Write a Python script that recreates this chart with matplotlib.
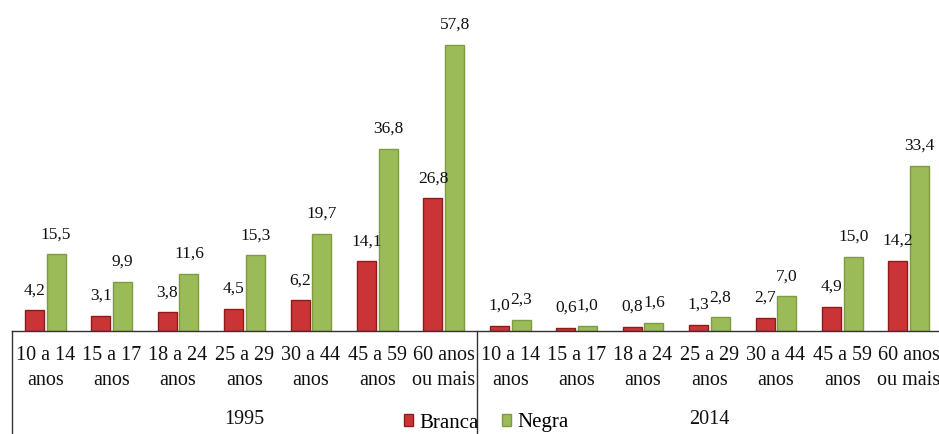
import matplotlib.pyplot as plt
import matplotlib.transforms as mtransforms
import numpy as np

plt.rcParams['font.family'] = ['Liberation Serif', 'DejaVu Serif']

# dados
faixas = ["10 a 14\nanos", "15 a 17\nanos", "18 a 24\nanos", "25 a 29\nanos",
          "30 a 44\nanos", "45 a 59\nanos", "60 anos\nou mais"]
anos = ["1995", "2014"]
branca_1995 = [4.2, 3.1, 3.8, 4.5, 6.2, 14.1, 26.8]
negra_1995 = [15.5, 9.9, 11.6, 15.3, 19.7, 36.8, 57.8]
branca_2014 = [1.0, 0.6, 0.8, 1.3, 2.7, 4.9, 14.2]
negra_2014 = [2.3, 1.0, 1.6, 2.8, 7.0, 15.0, 33.4]

branca = branca_1995 + branca_2014
negra = negra_1995 + negra_2014
labels = faixas + faixas

W, H = 939, 434
fig = plt.figure(figsize=(W / 100, H / 100), dpi=100)
ax = fig.add_axes([12 / W, 103 / H, 930 / W, 331 / H])

x = np.arange(len(branca))
bw = 0.285
off = 0.163
b1 = ax.bar(x - off, branca, bw, color="#CB3436", edgecolor="#8E1B1B", linewidth=1, label="Branca")
b2 = ax.bar(x + off, negra, bw, color="#9BBB59", edgecolor="#7D9C3F", linewidth=1, label="Negra")

def fmt(v):
    return ("%.1f" % v).replace(".", ",")

for bars, vals in [(b1, branca), (b2, negra)]:
    for r, v in zip(bars, vals):
        ax.annotate(fmt(v), xy=(r.get_x() + r.get_width() / 2, v),
                    xytext=(0, 20), textcoords="offset pixels",
                    ha="center", va="center", fontsize=12.5, color="#111111")

ax.set_xlim(-0.5, 13.5)
ax.set_ylim(0, 66.9)
ax.set_xticks(x)
ax.set_xticklabels(labels, fontsize=14.5, linespacing=1.42, color="#111111")
ax.tick_params(axis="x", length=0, pad=11)
ax.set_yticks([])
for s in ["left", "right", "top"]:
    ax.spines[s].set_visible(False)
ax.spines["bottom"].set_color("#333333")
ax.spines["bottom"].set_linewidth(1)

# separadores dos grupos
trans = mtransforms.blended_transform_factory(ax.transData, ax.transAxes)
for xs in [-0.5, 6.5, 13.5]:
    ax.plot([xs, xs], [0, -103 / 331], transform=trans, clip_on=False,
            color="#333333", lw=1)

for i, ano in enumerate(anos):
    ax.annotate(ano, xy=(3 + 7 * i, 0), xycoords=("data", "axes fraction"),
                xytext=(0, -89), textcoords="offset pixels",
                ha="center", va="center", fontsize=14.5, color="#111111")

fig.legend(handles=[b1, b2], labels=["Branca", "Negra"], loc="center",
           bbox_to_anchor=(486.5 / W, 1 - 423 / H), ncol=2, frameon=False,
           fontsize=15, handlelength=0.45, handleheight=0.45,
           handletextpad=0.3, columnspacing=1.1, borderpad=0)

fig.savefig("out.png", dpi=100)
